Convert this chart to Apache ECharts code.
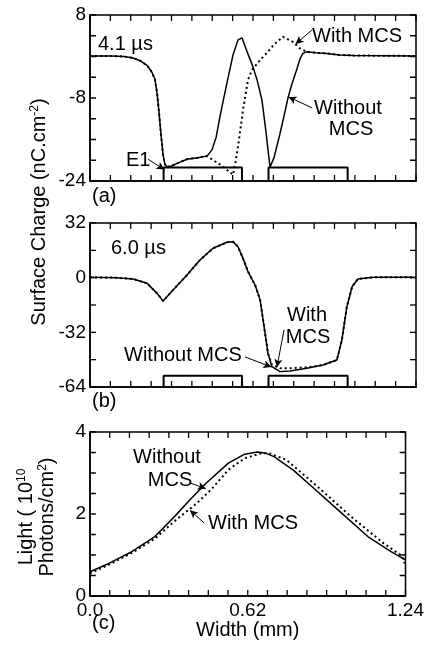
<!DOCTYPE html>
<html><head><meta charset="utf-8">
<script src="https://cdn.jsdelivr.net/npm/echarts@6/dist/echarts.min.js"></script>
<style>html,body{margin:0;padding:0;background:#fff}#c{width:427px;height:645px}</style>
</head><body><div id="c"></div>
<script>
// ---------- data ----------
const xLabelValues = [0, 0.62, 1.24];
const xLabelTexts = ['0.0', '0.62', '1.24'];
const yLabelsA = [8, -8, -24];
const yLabelsB = [32, 0, -32, -64];
const yLabelsC = [4, 2, 0];

// tick positions
const xTicks = [0, 0.0775, 0.155, 0.2325, 0.31, 0.3875, 0.465, 0.5425, 0.62, 0.6975, 0.775, 0.8525, 0.93, 1.0075, 1.085, 1.1625, 1.24];
const yTicksA = [-24, -20, -16, -12, -8, -4, 0, 4, 8];
const yTicksB = [-64, -48, -32, -16, 0, 16, 32];
const yTicksC = [0, 0.5, 1, 1.5, 2, 2.5, 3, 3.5, 4];

// (a) 4.1 us
const aWithout = [[0,0.1],[0.08,0.1],[0.13,0],[0.164,-0.3],[0.19,-0.8],[0.217,-1.7],[0.235,-3],[0.247,-4.4],[0.255,-7],[0.262,-10.5],[0.27,-15],[0.278,-19],[0.285,-20.8],[0.293,-21.3],[0.31,-21.1],[0.34,-20.4],[0.369,-19.8],[0.41,-19.5],[0.445,-19.2],[0.464,-18],[0.48,-15.5],[0.494,-11.7],[0.508,-8.2],[0.521,-5.1],[0.535,-1.8],[0.544,0.3],[0.555,2],[0.563,3.2],[0.578,3.6],[0.60,0.6],[0.62,-2],[0.637,-4.8],[0.654,-8.4],[0.667,-13.5],[0.677,-18],[0.685,-21.3],[0.692,-21.4],[0.70,-19.5],[0.723,-14.8],[0.74,-11],[0.753,-8],[0.768,-5.3],[0.787,-2.4],[0.80,-0.3],[0.81,0.6],[0.825,0.9],[0.86,0.7],[0.90,0.6],[0.95,0.3],[1.0,0.2],[1.24,0.1]];
const aWith = [[0,0.1],[0.08,0.1],[0.13,0],[0.164,-0.3],[0.19,-0.8],[0.217,-1.7],[0.235,-3],[0.247,-4.4],[0.255,-7],[0.262,-10.5],[0.27,-15],[0.278,-19],[0.285,-20.8],[0.293,-21.3],[0.31,-21.1],[0.34,-20.4],[0.369,-19.8],[0.41,-19.5],[0.445,-19.2],[0.50,-21],[0.544,-22.8],[0.553,-20.5],[0.563,-17.4],[0.582,-10.3],[0.601,-4.5],[0.616,-2.6],[0.647,-0.7],[0.673,0.7],[0.70,2.3],[0.734,3.8],[0.772,2.8],[0.80,1.5],[0.825,0.9],[0.86,0.7],[0.90,0.6],[0.95,0.3],[1.0,0.2],[1.24,0.1]];

// (b) 6.0 us
const bWithout = [[0,0.2],[0.10,0],[0.164,-0.8],[0.217,-3.3],[0.255,-9.2],[0.278,-13.7],[0.316,-7.2],[0.369,1.6],[0.418,10.3],[0.468,17.2],[0.521,20.7],[0.544,21],[0.563,18.1],[0.582,11.3],[0.601,3.5],[0.628,-4.3],[0.647,-13],[0.666,-32.6],[0.677,-44.3],[0.692,-52.1],[0.723,-55],[0.761,-54.6],[0.825,-53],[0.886,-51.1],[0.939,-48.2],[0.958,-36.5],[0.977,-17],[0.997,-5.3],[1.019,-0.8],[1.076,0.2],[1.24,0.2]];
const bWith = [[0,0.2],[0.10,0],[0.164,-0.8],[0.217,-3.3],[0.255,-9.2],[0.278,-13.7],[0.316,-7.2],[0.369,1.6],[0.418,10.3],[0.468,17.2],[0.521,20.7],[0.544,21],[0.563,18.1],[0.582,11.3],[0.601,3.5],[0.628,-4.3],[0.647,-13],[0.666,-32.6],[0.677,-44.3],[0.692,-51],[0.723,-53],[0.761,-53],[0.825,-52.5],[0.886,-51.1],[0.939,-48.2],[0.958,-36.5],[0.977,-17],[0.997,-5.3],[1.019,-0.8],[1.076,0.2],[1.24,0.2]];

// (c) light
const cWithout = [[0,0.59],[0.076,0.80],[0.164,1.08],[0.255,1.45],[0.331,1.93],[0.392,2.34],[0.456,2.75],[0.544,3.24],[0.608,3.46],[0.658,3.51],[0.692,3.48],[0.723,3.40],[0.799,3.07],[0.886,2.59],[0.989,2.02],[1.092,1.45],[1.183,1.08],[1.24,0.88]];
const cWith = [[0,0.55],[0.076,0.77],[0.164,1.05],[0.255,1.40],[0.331,1.82],[0.418,2.25],[0.48,2.62],[0.544,3.08],[0.608,3.36],[0.673,3.48],[0.70,3.49],[0.772,3.32],[0.901,2.63],[1.027,1.93],[1.153,1.29],[1.225,0.98],[1.24,0.75]];

// electrodes
const electrodeX = [[0.28, 0.578], [0.679, 0.98]];
const electrodeTopA = -21.4;
const electrodeTopB = -57.4;

// ---------- chart ----------
const FF = 'Liberation Sans, Arial, sans-serif';
const grids = [
  {left:90, top:15, width:326, height:166},
  {left:90, top:223, width:326, height:164},
  {left:90, top:432, width:326, height:164}
].map(g => Object.assign(g, {show:true, borderColor:'#000', borderWidth:1.5, backgroundColor:'transparent'}));
function near(list, v){ return list.findIndex(s => Math.abs(s - v) < 1e-6); }

const yCfg = [
  {min:-24, max:8, interval:4, labels:yLabelsA, ticks:yTicksA},
  {min:-64, max:32, interval:16, labels:yLabelsB, ticks:yTicksB},
  {min:0, max:4, interval:0.5, labels:yLabelsC, ticks:yTicksC}
];
const xAxis = [], yAxis = [];
for (let g = 0; g < 3; g++) {
  xAxis.push({type:'value', gridIndex:g, min:0, max:1.24, interval:0.0775,
    axisLine:{show:true, onZero:false, lineStyle:{color:'#000', width:1.5}}, axisTick:{show:false}, splitLine:{show:false},
    axisLabel:{show:g === 2, showMinLabel:true, showMaxLabel:true, margin:5, color:'#000', fontSize:19, fontFamily:FF,
      formatter: v => { const i = near(xLabelValues, v); return i >= 0 ? xLabelTexts[i] : ''; }},
    name: g === 2 ? 'Width (mm)' : '', nameLocation:'middle', nameGap:21,
    nameTextStyle:{color:'#000', fontSize:20, fontFamily:FF}});
  const c = yCfg[g];
  yAxis.push({type:'value', gridIndex:g, min:c.min, max:c.max, interval:c.interval,
    axisLine:{show:true, onZero:false, lineStyle:{color:'#000', width:1.5}}, axisTick:{show:false}, splitLine:{show:false},
    axisLabel:{show:true, showMinLabel:true, showMaxLabel:true, margin:4, color:'#000', fontSize:19, fontFamily:FF,
      formatter: v => near(c.labels, v) >= 0 ? String(Math.round(v)) : ''}});
}

function curve(data, g, dotted) {
  return {type:'line', xAxisIndex:g, yAxisIndex:g, data:data, symbol:'none', showSymbol:false,
    silent:true, animation:false, z: dotted ? 3 : 4,
    lineStyle:{color:'#000', width: dotted ? 2 : 1.5, type: dotted ? [2,3] : 'solid'}};
}
function electrode(x, bottom, top, g) {
  return {type:'line', xAxisIndex:g, yAxisIndex:g, symbol:'none', silent:true, animation:false, z:2,
    data:[[x[0], bottom],[x[0], top],[x[1], top],[x[1], bottom]],
    lineStyle:{color:'#000', width:2}};
}
function arrows(g, list) {
  return {type:'line', xAxisIndex:g, yAxisIndex:g, data:[], silent:true, animation:false,
    markLine:{silent:true, animation:false, symbol:['none','arrow'], symbolSize:[6,8], label:{show:false},
      lineStyle:{color:'#000', width:1, type:'solid'},
      data: list.map(a => [{coord:a[0]}, {coord:a[1]}])}};
}
// inward tick marks on all four sides: one short line segment each, drawn through the axes' scales
function ticks(g) {
  const c = yCfg[g], L = 6, gr = grids[g];
  const dy = L * (c.max - c.min) / gr.height;
  const dx = L * 1.24 / gr.width;
  const seg = (p, q) => ({type:'line', xAxisIndex:g, yAxisIndex:g, data:[p, q], symbol:'none', showSymbol:false,
    silent:true, animation:false, clip:false, z:6, lineStyle:{color:'#000', width:1.3, type:'solid'}});
  const out = [];
  xTicks.forEach(x => {
    out.push(seg([x, c.min], [x, c.min + dy]));
    out.push(seg([x, c.max], [x, c.max - dy]));
  });
  c.ticks.forEach(y => {
    out.push(seg([0, y], [dx, y]));
    out.push(seg([1.24, y], [1.24 - dx, y]));
  });
  return out;
}

const series = [
  curve(aWith, 0, true), curve(aWithout, 0, false),
  electrode(electrodeX[0], -24, electrodeTopA, 0), electrode(electrodeX[1], -24, electrodeTopA, 0),
  arrows(0, [
    [[0.844,5.1],[0.782,2.4]],
    [[0.845,-9.9],[0.755,-7.8]],
    [[0.221,-19.8],[0.283,-21.8]]
  ]),
  curve(bWith, 1, true), curve(bWithout, 1, false),
  electrode(electrodeX[0], -64, electrodeTopB, 1), electrode(electrodeX[1], -64, electrodeTopB, 1),
  arrows(1, [
    [[0.738,-30.6],[0.711,-52.4]],
    [[0.590,-46.4],[0.690,-52.3]]
  ]),
  curve(cWith, 2, true), curve(cWithout, 2, false),
  arrows(2, [
    [[0.392,2.76],[0.455,2.62]],
    [[0.449,1.78],[0.393,2.09]]
  ])
].concat(ticks(0), ticks(1), ticks(2));

function txt(text, x, y, align) {
  return {type:'text', x:x, y:y, silent:true,
    style:{text:text, fill:'#000', font:'20px ' + FF, fontSize:20, fontFamily:FF,
      align:align || 'left', textAlign:align || 'left', verticalAlign:'middle', textVerticalAlign:'middle'}};
}
const rich = {
  n:{fontSize:20, fontFamily:FF, fill:'#000', color:'#000'},
  s:{fontSize:12, fontFamily:FF, fill:'#000', color:'#000', verticalAlign:'top', lineHeight:12}
};
const graphic = [
  txt('4.1 \u00B5s', 98, 44),
  txt('(a)', 92, 196),
  txt('E1', 126, 160),
  txt('With MCS', 312, 36),
  txt('Without', 348, 108, 'center'),
  txt('MCS', 351, 129, 'center'),
  txt('6.0 \u00B5s', 111, 248),
  txt('(b)', 92, 401),
  txt('With', 307, 315, 'center'),
  txt('MCS', 308, 337, 'center'),
  txt('Without MCS', 124, 355),
  txt('Without', 167, 457, 'center'),
  txt('MCS', 170, 480, 'center'),
  txt('With MCS', 208, 523),
  txt('(c)', 92, 623),
  {type:'text', x:39, y:212, rotation:Math.PI/2, silent:true,
    style:{text:'{n|Surface Charge (nC.cm}{s|-2}{n|)}', rich:rich, fill:'#000', align:'center', textAlign:'center', verticalAlign:'middle', textVerticalAlign:'middle', fontSize:20, fontFamily:FF}},
  {type:'text', x:37, y:517, rotation:Math.PI/2, silent:true,
    style:{text:'{n|Light ( 10}{s|10}\n{n|Photons/cm}{s|2}{n|)}', rich:rich, fill:'#000', align:'center', textAlign:'center', verticalAlign:'middle', textVerticalAlign:'middle', fontSize:20, fontFamily:FF, lineHeight:21}}
];

const chart = echarts.init(document.getElementById('c'), null, {renderer:'canvas'});
chart.setOption({
  backgroundColor:'#fff', animation:false,
  grid: grids, xAxis: xAxis, yAxis: yAxis, series: series, graphic: graphic
});
</script>
</body></html>
